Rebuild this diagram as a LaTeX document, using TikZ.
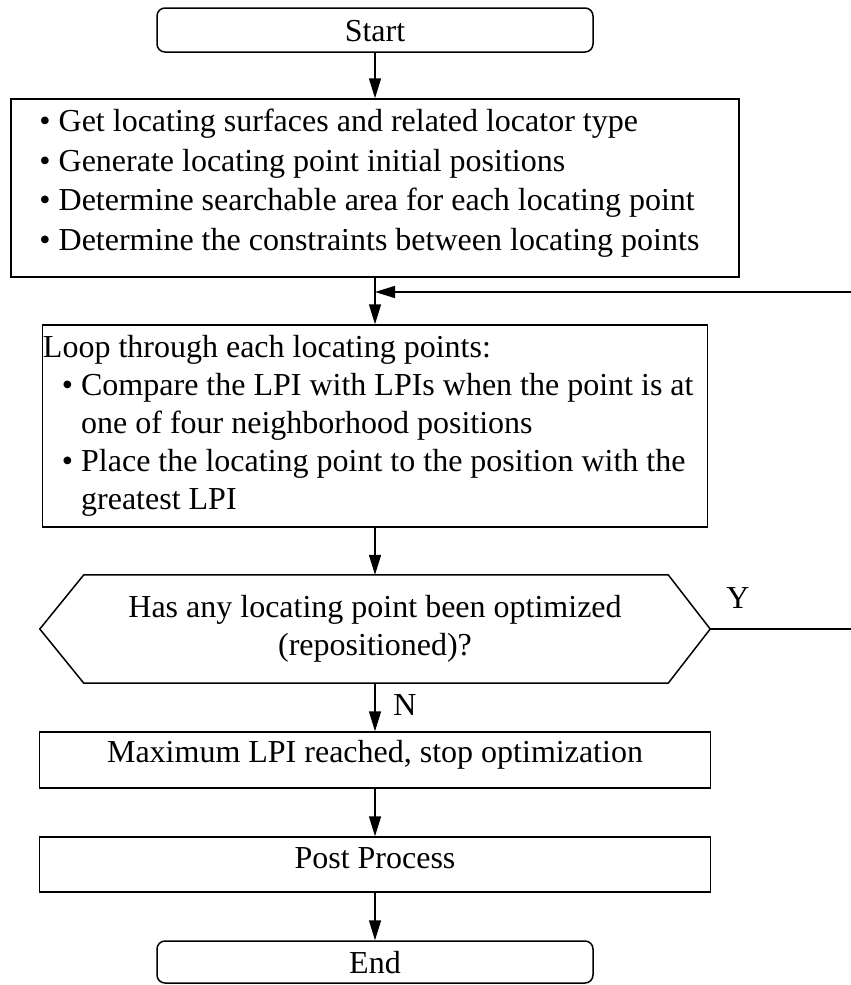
\documentclass[tikz,border=0pt]{standalone}
\usepackage{fontspec}
\setmainfont{Liberation Serif}
\usetikzlibrary{arrows.meta,calc}
\begin{document}
\begin{tikzpicture}[x=1pt,y=-1pt,
  txt/.style={font=\fontsize{32}{39.5}\selectfont,inner sep=0pt},
  box/.style={txt,draw,line width=1.5pt},
  term/.style={box,rounded corners=8pt,minimum width=436pt},
  conn/.style={line width=1.5pt,-{Triangle[length=20pt,width=12pt]}}]
\useasboundingbox (0,0) rectangle (851,985);

\node[term,minimum height=44pt,text height=22pt,text depth=0pt] (start) at (375,30) {Start};

\node[box,minimum width=728pt,minimum height=178pt] (b1) at (375,188) {};
\node[txt,anchor=north west,align=left] (t1) at ($(b1.north west)+(29,11)$)
 {\textbullet\ Get locating surfaces and related locator type\\
  \textbullet\ Generate locating point initial positions\\
  \textbullet\ Determine searchable area for each locating point\\
  \textbullet\ Determine the constraints between locating points};

\node[box,minimum width=665pt,minimum height=202pt] (b2) at (375,426) {};
\node[txt,anchor=north west,align=left,font=\fontsize{32}{38}\selectfont] (t2) at ($(b2.north west)+(1,11)$)
 {Loop through each locating points:\\
  \hspace*{19pt}\textbullet\ Compare the LPI with LPIs when the point is at\\
  \hspace*{19pt}\phantom{\textbullet\ }one of four neighborhood positions\\
  \hspace*{19pt}\textbullet\ Place the locating point to the position with the\\
  \hspace*{19pt}\phantom{\textbullet\ }greatest LPI};

\node[txt,minimum width=670pt,minimum height=108pt,align=center,font=\fontsize{32}{38}\selectfont] (hex) at (375,629)
 {Has any locating point been optimized\\(repositioned)?};
\draw[line width=1.5pt] (hex.west) -- ($(hex.north west)+(44,0)$) -- ($(hex.north east)+(-42,0)$)
  -- (hex.east) -- ($(hex.south east)+(-42,0)$) -- ($(hex.south west)+(44,0)$) -- cycle;

\node[box,minimum width=671pt,minimum height=56pt,text height=22pt,text depth=18pt] (b3) at (375,760)
 {Maximum LPI reached, stop optimization};
\node[box,minimum width=671pt,minimum height=55pt,text height=22pt,text depth=15pt] (b4) at (375,864.5)
 {Post Process};
\node[term,minimum height=42pt,text height=22pt,text depth=0pt] (end) at (375,962) {End};

\node[txt] (ylab) at (738,598) {Y};
\node[txt] (nlab) at (405,705) {N};

\coordinate (loopin) at (375,292);
\coordinate (edge) at (854,629);

\draw[conn] (start.south) -- (b1.north);
\draw[conn] (b1.south) -- (b2.north);
\draw[conn] (hex.east) -- (edge) |- (loopin);
\draw[conn] (b2.south) -- (hex.north);
\draw[conn] (hex.south) -- (b3.north);
\draw[conn] (b3.south) -- (b4.north);
\draw[conn] (b4.south) -- (end.north);
\end{tikzpicture}
\end{document}
